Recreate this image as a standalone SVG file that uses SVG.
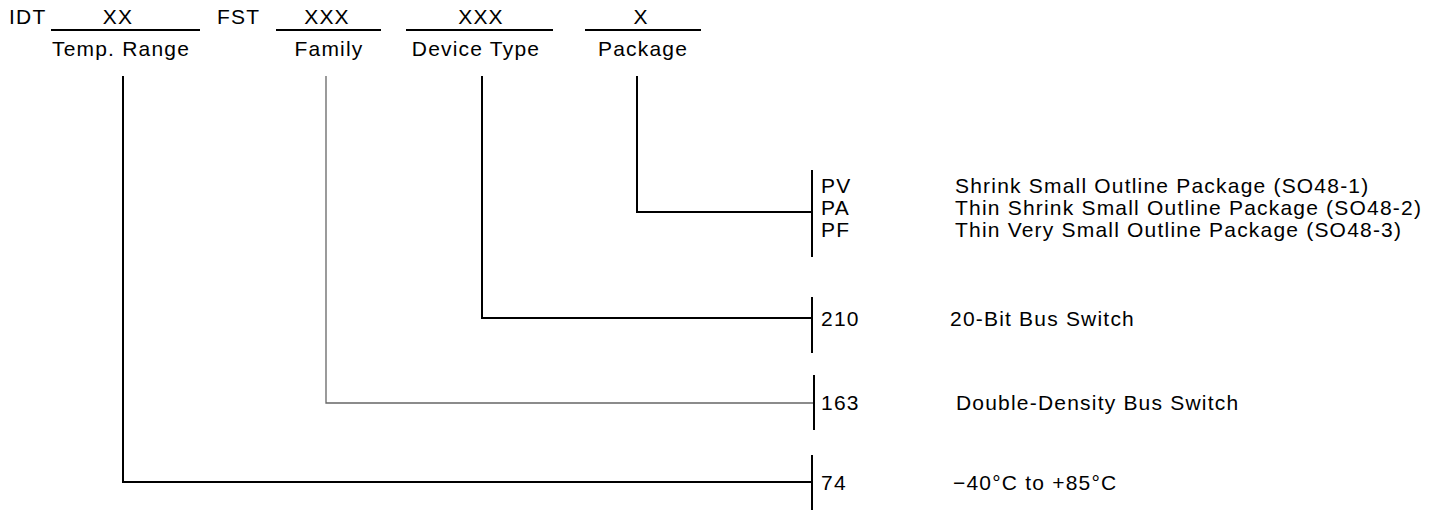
<svg xmlns="http://www.w3.org/2000/svg" width="1444" height="510" viewBox="0 0 1444 510">
<style>
text{font-family:"Liberation Sans",Arial,sans-serif;font-size:21px;fill:#000;letter-spacing:1.2px}
.c{text-anchor:middle}
.ln{stroke:#000;stroke-width:2;fill:none}
.thin{stroke:#666;stroke-width:1.3;fill:none}
</style>
<rect width="1444" height="510" fill="#fff"/>
<g id="header">
<text x="9" y="24">IDT</text>
<line class="ln" x1="51" y1="30" x2="200" y2="30"/>
<text class="c" x="118" y="24">XX</text>
<text x="217" y="24">FST</text>
<line class="ln" x1="276" y1="30" x2="381" y2="30"/>
<text class="c" x="327" y="24">XXX</text>
<line class="ln" x1="406" y1="30" x2="553" y2="30"/>
<text class="c" x="481" y="24">XXX</text>
<line class="ln" x1="585" y1="30" x2="701" y2="30"/>
<text class="c" x="641" y="24">X</text>
</g>
<g id="temp-range"><text class="c" x="121" y="56">Temp. Range</text></g>
<g id="family"><text class="c" x="329" y="56">Family</text></g>
<g id="device-type"><text class="c" x="476" y="56">Device Type</text></g>
<g id="package"><text class="c" x="643" y="56">Package</text></g>
<g id="connectors">
<polyline class="ln" points="637,76 637,212 812,212"/>
<polyline class="ln" points="482,76 482,318 812,318"/>
<polyline class="thin" points="326,76 326,403 814,403"/>
<polyline class="ln" points="123,76 123,482 812,482"/>
</g>
<g id="package-options">
<line class="ln" x1="812" y1="170" x2="812" y2="257"/>
<text x="821" y="193">PV</text>
<text x="821" y="215">PA</text>
<text x="821" y="237">PF</text>
<text x="955" y="193">Shrink Small Outline Package (SO48-1)</text>
<text x="955" y="215">Thin Shrink Small Outline Package (SO48-2)</text>
<text x="955" y="237">Thin Very Small Outline Package (SO48-3)</text>
</g>
<g id="device-options">
<line class="ln" x1="812" y1="297" x2="812" y2="353"/>
<text x="821" y="326">210</text>
<text x="950" y="326">20-Bit Bus Switch</text>
</g>
<g id="family-options">
<line class="ln" x1="814" y1="375" x2="814" y2="430"/>
<text x="821" y="410">163</text>
<text x="956" y="410">Double-Density Bus Switch</text>
</g>
<g id="temp-options">
<line class="ln" x1="812" y1="455" x2="812" y2="510"/>
<text x="821" y="490">74</text>
<text x="953" y="490">−40°C to +85°C</text>
</g>
</svg>
